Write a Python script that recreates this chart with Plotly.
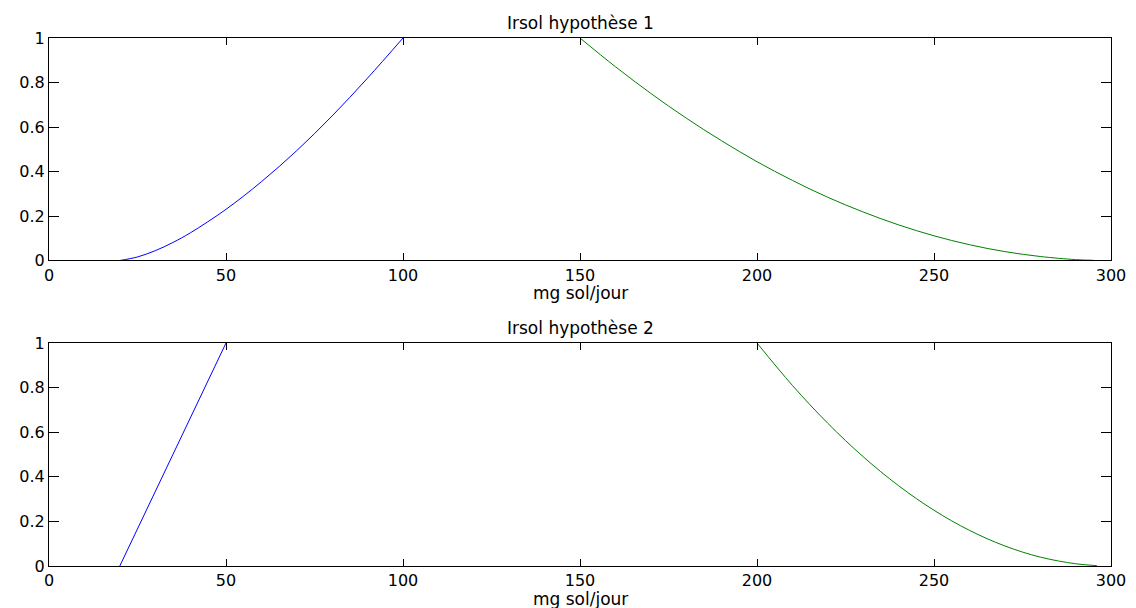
import plotly.graph_objects as go
from plotly.subplots import make_subplots

# values
x_blue_1 = [20, 25, 30, 35, 40, 50, 60, 70, 80, 90, 100]
y_blue_1 = [0, 0.016, 0.044, 0.081, 0.125, 0.23, 0.354, 0.494, 0.65, 0.82, 1.0]

x_green_1 = [150, 160, 170, 180, 190, 200, 210, 220, 230, 240, 250, 260, 270, 280, 290, 295]
y_green_1 = [1.0, 0.871, 0.751, 0.64, 0.538, 0.444, 0.36, 0.284, 0.218, 0.16, 0.111, 0.071, 0.04, 0.018, 0.004, 0.001]

x_blue_2 = [20, 50]
y_blue_2 = [0, 1.0]

x_green_2 = [200, 210, 220, 230, 240, 250, 260, 270, 280, 290, 296]
y_green_2 = [1.0, 0.81, 0.64, 0.49, 0.36, 0.25, 0.16, 0.09, 0.04, 0.01, 0.0016]

titles = ["Irsol hypothèse 1", "Irsol hypothèse 2"]
xlabel = "mg sol/jour"

FONT = "DejaVu Sans"
BLUE = "#0000FF"
GREEN = "#008000"

fig = make_subplots(rows=2, cols=1)

fig.add_trace(go.Scatter(x=x_blue_1, y=y_blue_1, mode="lines", line=dict(color=BLUE, width=1, shape="spline")), row=1, col=1)
fig.add_trace(go.Scatter(x=x_green_1, y=y_green_1, mode="lines", line=dict(color=GREEN, width=1, shape="spline")), row=1, col=1)
fig.add_trace(go.Scatter(x=x_blue_2, y=y_blue_2, mode="lines", line=dict(color=BLUE, width=1)), row=2, col=1)
fig.add_trace(go.Scatter(x=x_green_2, y=y_green_2, mode="lines", line=dict(color=GREEN, width=1, shape="spline")), row=2, col=1)

axis_common = dict(showline=True, linecolor="black", linewidth=1, mirror="allticks",
                   ticks="inside", tickcolor="black", showgrid=False, zeroline=False,
                   automargin=False,
                   tickfont=dict(family=FONT, size=16, color="black"))

fig.update_xaxes(range=[0, 300], dtick=50, tick0=0, ticklen=7, **axis_common)
fig.update_yaxes(range=[0, 1], dtick=0.2, tick0=0, ticklen=10, **axis_common)

# page adds an 8px body margin, so the figure is 8px smaller than the window
fig.update_layout(
    width=1128, height=600,
    margin=dict(l=41, r=25, t=30, b=42),
    plot_bgcolor="white", paper_bgcolor="white",
    showlegend=False,
    yaxis=dict(domain=[0.5786, 1.0]),
    yaxis2=dict(domain=[0.0, 0.4223]),
)

annotations = []
for i, dom in enumerate([(0.5786, 1.0), (0.0, 0.4223)]):
    annotations.append(dict(text=titles[i], x=0.5, xref="paper", y=dom[1], yref="paper",
                            xanchor="center", yanchor="middle", yshift=15, showarrow=False,
                            font=dict(family=FONT, size=17, color="black")))
    annotations.append(dict(text=xlabel, x=0.5, xref="paper", y=dom[0], yref="paper",
                            xanchor="center", yanchor="middle", yshift=-33, showarrow=False,
                            font=dict(family=FONT, size=17, color="black")))
fig.update_layout(annotations=annotations)

fig.write_html("out.html")
